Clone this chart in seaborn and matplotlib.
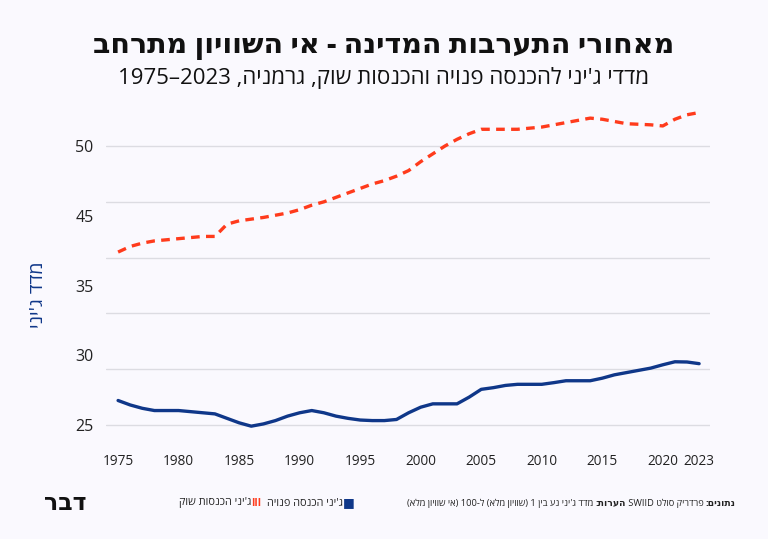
import re
import pandas as pd
import numpy as np
import matplotlib
matplotlib.use("Agg")
import matplotlib.pyplot as plt
import seaborn as sns

# Gini index, Germany (SWIID)
years = list(range(1975, 2024))
gini_market = [40.5, 41.0, 41.3, 41.5, 41.6, 41.7, 41.8, 41.9, 41.9, 43.0,
               43.3, 43.45, 43.6, 43.8, 44.0, 44.3, 44.7, 45.0, 45.4, 45.8,
               46.2, 46.6, 46.9, 47.3, 47.8, 48.6, 49.3, 50.0, 50.6, 51.1,
               51.5, 51.5, 51.5, 51.5, 51.6, 51.7, 51.9, 52.1, 52.3, 52.5,
               52.4, 52.2, 52.0, 51.95, 51.9, 51.8, 52.4, 52.8, 53.0]
gini_disposable = [27.2, 26.8, 26.5, 26.3, 26.3, 26.3, 26.2, 26.1, 26.0, 25.6,
                   25.2, 24.9, 25.1, 25.4, 25.8, 26.1, 26.3, 26.1, 25.8, 25.6,
                   25.45, 25.4, 25.4, 25.5, 26.1, 26.6, 26.9, 26.9, 26.9, 27.5,
                   28.2, 28.35, 28.55, 28.65, 28.65, 28.65, 28.8, 28.97, 28.97, 28.97,
                   29.2, 29.5, 29.7, 29.9, 30.1, 30.4, 30.67, 30.65, 30.5]

x_ticks = [1975, 1980, 1985, 1990, 1995, 2000, 2005, 2010, 2015, 2020, 2023]
y_grid = [25, 30, 35, 40, 45, 50]
y_labels = ["25", "30", "35", "45", "50"]

title = "מאחורי התערבות המדינה - אי השוויון מתרחב"
subtitle = "מדדי ג'יני להכנסה פנויה והכנסות שוק, גרמניה, 1975–2023"
y_title = "מדד ג'יני"
label_disp = "ג'יני הכנסה פנויה"
label_market = "ג'יני הכנסות שוק"
note_parts = [("נתונים:", "bold"), (" פרדריק סולט SWIID ", "normal"),
              ("הערות:", "bold"), (" מדד ג'יני נע בין 1 (שוויון מלא) ל-100 (אי שוויון מלא)", "normal")]
logo = "דבר"

BG = "#faf9fe"
BLUE = "#0f3789"
RED = "#ff3b1c"
FONT = ["Open Sans", "DejaVu Sans"]


def heb(s):
    # matplotlib has no bidi support: turn logical RTL text into visual order
    r = s[::-1].translate(str.maketrans("()", ")("))
    return re.sub(r"[A-Za-z0-9][A-Za-z0-9.–\-]*[A-Za-z0-9]|[A-Za-z0-9]",
                  lambda m: m.group(0)[::-1], r)


sns.set_theme(style="white")
plt.rcParams["font.family"] = FONT

df = pd.DataFrame({"year": years, "market": gini_market, "disposable": gini_disposable})

fig = plt.figure(figsize=(7.68, 5.39), dpi=100, facecolor=BG)
ax = fig.add_axes([0.138, 0.1907, 0.7865, 0.6212], facecolor=BG)

sns.lineplot(data=df, x="year", y="market", ax=ax, color=RED, linewidth=2.4,
             dashes=False, linestyle=(0, (2.6, 1.9)))
sns.lineplot(data=df, x="year", y="disposable", ax=ax, color=BLUE, linewidth=2.4)

ax.set_xlim(1974.0, 2023.9)
ax.set_ylim(24, 54)
for v in y_grid:
    ax.axhline(v, color="#dcdce2", linewidth=1.0, zorder=0)

ax.set_yticks(np.linspace(25, 50, len(y_labels)))
ax.set_yticklabels(y_labels)
ax.set_xticks(x_ticks)
ax.set_xticklabels([str(t) for t in x_ticks])
ax.tick_params(axis="y", length=0, pad=9, labelsize=11.5, labelcolor="#222222")
ax.tick_params(axis="x", length=0, pad=13, labelsize=9.8, labelcolor="#222222")
ax.set_xlabel("")
ax.set_ylabel("")
for s in ax.spines.values():
    s.set_visible(False)

fig.text(0.5, 0.915, heb(title), ha="center", va="center", fontsize=20.5,
         fontweight="heavy", color="#111111")
fig.text(0.5, 0.856, heb(subtitle), ha="center", va="center", fontsize=16,
         color="#111111")
fig.text(0.05, 0.453, heb(y_title), ha="center", va="center", rotation=90,
         fontsize=14, color=BLUE)

# legend (right to left)
yl = 1 - 503 / 539
fig.text(349 / 768, yl, "■", ha="center", va="center", fontsize=9, color=BLUE,
         family=["DejaVu Sans"])
fig.text(343 / 768, yl, heb(label_disp), ha="right", va="center", fontsize=7.8,
         color="#222222")
fig.text(256 / 768, yl, "III", ha="center", va="center", fontsize=7.5,
         fontweight="bold", color=RED)
fig.text(251 / 768, yl, heb(label_market), ha="right", va="center", fontsize=7.8,
         color="#222222")

# source note, mixed weights, laid out right to left
fig.canvas.draw()
renderer = fig.canvas.get_renderer()
x = 736
for text, weight in note_parts:
    t = fig.text(x / 768, yl, heb(text), ha="right", va="center", fontsize=6.7,
                 fontweight=weight, color="#222222")
    x -= t.get_window_extent(renderer).width

fig.text(65 / 768, yl, heb(logo), ha="center", va="center", fontsize=17,
         fontweight="heavy", color="#111111")

fig.savefig("out.png", dpi=100, facecolor=BG)
